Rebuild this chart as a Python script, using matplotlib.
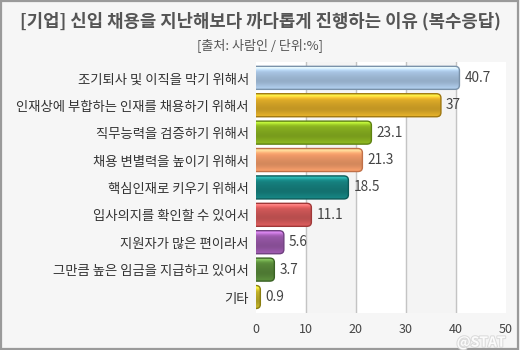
import numpy as n
import matplotlib
matplotlib.use("Agg")
import matplotlib.pyplot as plt
from matplotlib.patches import FancyBboxPatch, Rectangle
from matplotlib.colors import to_rgb
import matplotlib.patheffects as pe

plt.rcParams['font.family'] = ['Noto Sans CJK KR', 'DejaVu Sans']

# reasons and share of companies (%)
reasons = ["조기퇴사 및 이직을 막기 위해서",
           "인재상에 부합하는 인재를 채용하기 위해서",
           "직무능력을 검증하기 위해서",
           "채용 변별력을 높이기 위해서",
           "핵심인재로 키우기 위해서",
           "입사의지를 확인할 수 있어서",
           "지원자가 많은 편이라서",
           "그만큼 높은 임금을 지급하고 있어서",
           "기타"]
values = [40.7, 37, 23.1, 21.3, 18.5, 11.1, 5.6, 3.7, 0.9]
value_labels = ["40.7", "37", "23.1", "21.3", "18.5", "11.1", "5.6", "3.7", "0.9"]
xticks = [0, 10, 20, 30, 40, 50]

colors = ["#a8c4e2", "#dcaa28", "#88b020", "#f09a68", "#16807e",
          "#d05858", "#9858a8", "#58883a", "#c0b028"]
edges = ["#7a92aa", "#a07810", "#5e8210", "#c07048", "#0c5a58",
         "#a03838", "#704080", "#3a6224", "#8a7e10"]

fig = plt.figure(figsize=(5.2, 3.5), dpi=100)
fig.patch.set_facecolor("#f6f6f6")
fig.patches.append(Rectangle((0.002, 0.003), 0.995, 0.994, transform=fig.transFigure,
                             fill=False, edgecolor="#9a9a9a", linewidth=1.6))

ax = fig.add_axes([0.492, 0.106, 0.481, 0.717])
ax.set_xlim(0, 50)
ax.set_ylim(len(values) - 0.42, -0.58)
ax.set_facecolor("white")
for s in ax.spines.values():
    s.set_visible(False)

# alternating column bands and grid
for i in range(len(xticks) - 1):
    if i % 2 == 1:
        ax.axvspan(xticks[i], xticks[i + 1], color="#f4f4f4", zorder=0)
for t in xticks[1:-1]:
    ax.axvline(t, color="#c4c4c4", linewidth=1.0, zorder=1)

y = n.arange(len(values))
bars = ax.barh(y, values, height=0.84, color="none", edgecolor="none")

# glossy rounded bars
shade = n.array([1.35, 1.3, 1.15, 1.02, 0.98, 0.95, 0.92, 0.9, 0.88, 0.9, 0.95, 1.0, 1.05])
for i, (b, c, e) in enumerate(zip(bars, colors, edges)):
    x0, y0 = b.get_x(), b.get_y()
    w, h = b.get_width(), b.get_height()
    patch = FancyBboxPatch((x0 - 1.5, y0), w + 1.5, h,
                           boxstyle="round,pad=0,rounding_size=0.9",
                           mutation_aspect=0.17, facecolor="none",
                           edgecolor=e, linewidth=1.0, zorder=3)
    ax.add_patch(patch)
    base = n.array(to_rgb(c))
    grad = n.clip(base[None, :] * shade[:, None] + (shade[:, None] > 1.2) * 0.08, 0, 1)
    im = ax.imshow(grad[:, None, :], extent=(x0 - 1.5, x0 + w, y0 + h, y0),
                   aspect="auto", interpolation="bicubic", zorder=2)
    im.set_clip_path(patch)
    ax.text(x0 + w + 1.0, y0 + h / 2, value_labels[i],
            va="center", ha="left", fontsize=9.8, color="#444444", zorder=4)

ax.set_yticks(y)
ax.set_yticklabels(reasons, fontsize=9.6, color="#333333")
ax.set_xticks(xticks)
ax.set_xticklabels([str(t) for t in xticks], fontsize=9, color="#444444")
ax.tick_params(axis="y", length=0, pad=5)
ax.tick_params(axis="x", length=0, pad=7)

fig.text(0.5, 0.94, "[기업] 신입 채용을 지난해보다 까다롭게 진행하는 이유 (복수응답)",
         ha="center", va="center", fontsize=12.8, color="#555555", fontweight="bold")
fig.text(0.5, 0.87, "[출처: 사람인 / 단위:%]", ha="center", va="center",
         fontsize=9.4, color="#555555")

fig.text(0.925, 0.019, "@STAT", ha="center", va="center", fontsize=10,
         fontweight="bold", color="white", alpha=0.9,
         path_effects=[pe.withStroke(linewidth=1.5, foreground="#d8d8d8")])

fig.savefig("out.png", dpi=100, facecolor=fig.get_facecolor())
